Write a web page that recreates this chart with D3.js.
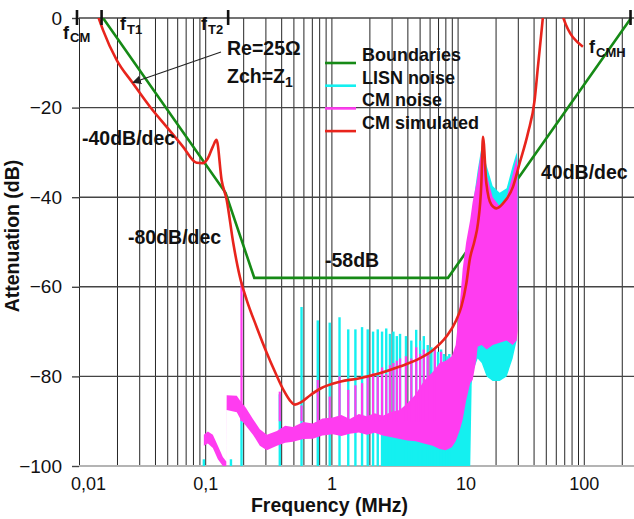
<!DOCTYPE html>
<html>
<head>
<meta charset="utf-8">
<script src="https://cdn.jsdelivr.net/npm/d3@7"></script>
<style>
body { margin: 0; background: #fff; }
svg { font-family: "Liberation Sans", Arial, sans-serif; }
</style>
</head>
<body>
<svg width="634" height="519"></svg>
<script>
// tick labels
const xTickValues = [0.01, 0.1, 1, 10, 100];
const xTickLabels = ['0,01', '0,1', '1', '10', '100'];
const yTickValues = [0, -20, -40, -60, -80, -100];

// boundaries (green)
const boundF = [0.0155, 0.145, 0.245, 8.4, 237];
const boundDb = [0, -39, -58, -58, 0];

// CM simulated (red)
const simF = [0.0142,0.0155,0.0199,0.0268,0.0365,0.0495,0.0666,0.0855,0.0959,0.105,0.115,0.123,0.135,0.148,0.167,0.188,0.213,0.255,0.306,0.36,0.42,0.47,0.513,0.58,0.68,0.82,1.166,1.678,2.416,3.48,5.01,6.39,8.15,9.78,10.72,11.74,12.47,13.66,14.51,15.43,15.89,16.9,18.52,20.29,22.88,27.46,31.02,36.1,40.8,43.3,46.1,47.5,52,58,64,68.3,98.4];
const simDb = [0.3,-2.7,-9.4,-14.6,-19.8,-24.3,-28.7,-32.3,-32.4,-31.3,-28.7,-27.2,-36.2,-40.6,-50.3,-57.7,-62.9,-68.9,-74.6,-79.2,-83.2,-85.4,-86.3,-85.7,-84.2,-82.7,-81.2,-80.4,-79.3,-77.8,-76,-74.1,-71.1,-67.4,-64.4,-59.2,-54,-49.6,-45.8,-36.9,-26.5,-36.9,-41.7,-42.5,-41.4,-37.7,-32.4,-25.7,-18.3,-10.9,-3.4,0.3,6,9,5,0.3,-6.4];

// CM noise (magenta) band
const magF = [0.0976,0.105,0.115,0.126,0.138,0.147,0.148,0.178,0.190,0.210,0.239,0.271,0.308,0.370,0.43,0.495,0.6,0.712,0.85,1.026,1.2,1.40,1.65,1.91,2.2,2.55,3.0,3.48,4.0,4.66,5.4,6.35,7.2,8.05,9.0,9.66,10.4,10.97,11.7,12.6,13.17,14.07,14.43,15.52,17.0,18.97,21.54,24.48,27.31,29.38,29.9];
const magHi = [-93.0,-92.3,-93.0,-95.5,-98.0,-99.0,-84.2,-84.3,-85.5,-87.0,-89.5,-91.8,-93.0,-92.2,-91.0,-91.3,-90.2,-90.5,-89.4,-89.2,-88.6,-89.5,-88.4,-88.9,-88.2,-88.8,-87.9,-87.5,-86.0,-84.0,-81.0,-79.0,-77.0,-76.5,-75.5,-73.0,-64.0,-56.0,-50.0,-45.0,-41.0,-37.0,-35.0,-29.0,-35.0,-40.0,-42.0,-40.0,-35.0,-31.0,-36.0];
const magLo = [-95.5,-95.0,-96.0,-98.5,-100,-100,-87.5,-88.0,-89.5,-91.0,-93.0,-95.5,-96.5,-95.5,-94.8,-94.6,-94.0,-93.9,-93.2,-92.9,-93.3,-92.8,-92.5,-93.0,-92.6,-93.2,-93.6,-94.0,-94.3,-94.5,-95.0,-95.5,-96.2,-96.5,-95.8,-94.5,-92.0,-89.7,-85.3,-81.5,-80.8,-76.3,-73.4,-73.0,-74.0,-73.0,-72.5,-72.0,-73.0,-72.0,-70.0];
// CM noise harmonic spikes
const magSpikeF = [0.194,0.39,0.58,0.78,0.97,1.16,1.36,1.55,1.75,1.94,2.14,2.33,2.52,2.72,2.91,3.10,3.30,3.50,3.90,4.30,4.70,5.05,5.40,5.80,6.6,7.4];
const magSpikeDb = [-58.9,-83.4,-86.5,-80.8,-84.5,-80,-83,-82,-81.5,-80,-79.3,-80,-78,-79.5,-77.5,-77,-76.5,-76,-75.5,-76,-73.5,-75,-74,-75,-74,-74.5];

// LISN noise (cyan) dense part
const lisnF = [2.55,3.48,4.66,6.35,8.05,9.66,10.4,10.97,11.7,12.6,12.93,13.17,14.43,15.52,17.0,18.97,21.54,24.48,27.31,29.38,30.2];
const lisnHi = [-90.5,-90,-90,-90.5,-91,-88,-75,-62,-52,-46,-44,-42,-34,-28.5,-33,-37.5,-39,-38,-33,-30,-33];
const lisnLo = [-100,-100,-100,-100,-100,-100,-100,-100,-100,-100,-82,-79,-76,-77,-80,-81,-81,-80,-76,-72,-65];
// LISN noise harmonic spikes
const lisnSpikeF = [0.0976,0.160,0.194,0.39,0.58,0.78,0.97,1.16,1.36,1.55,1.75,1.94,2.14,2.33,2.52,2.72,2.91,3.10,3.30,3.50,3.90,4.30,4.70,5.05,5.40,5.80,6.20,6.60,7.00,7.40,7.80,8.20,8.60];
const lisnSpikeDb = [-98.5,-98.5,-89,-84,-64.5,-67.5,-68,-66.8,-69.5,-69.5,-69,-69.5,-70,-69.5,-70,-69.3,-70.5,-70,-71,-70.5,-71,-72,-69.6,-72,-71,-73,-73.5,-74,-74.5,-74,-75,-75.5,-75];

// corner frequency markers
const markerF = [0.00964, 0.0151, 0.152, 234.6];

const legendNames = ['Boundaries', 'LISN noise', 'CM noise', 'CM simulated'];

const colGreen = '#168a16', colCyan = '#14f0f0', colMag = '#ff3cf0', colRed = '#e8241c';

function whenLoaded() {
    const svg = d3.select('svg');
    const width = +svg.attr('width');
    const height = +svg.attr('height');
    const margin = {top: 18, right: 0, bottom: 53, left: 79};
    const innerWidth = width - margin.left - margin.right;
    const innerHeight = height - margin.top - margin.bottom;

    const xScale = d3.scaleLog().domain([0.01, 250]).range([0, innerWidth]);
    const yScale = d3.scaleLinear().domain([-100, 0]).range([innerHeight, 0]);

    const g = svg.append('g').attr('transform', `translate(${margin.left},${margin.top})`);

    svg.append('defs').append('clipPath').attr('id', 'plot')
        .append('rect').attr('width', innerWidth).attr('height', innerHeight);

    // vertical grid
    const gridX = g.append('g')
        .attr('transform', `translate(0,${innerHeight})`)
        .call(d3.axisBottom(xScale).tickValues(xScale.ticks()).tickSize(-innerHeight).tickFormat(''));
    gridX.select('.domain').remove();
    gridX.selectAll('line').attr('stroke', '#262626').attr('stroke-width', 1);

    // horizontal grid
    g.selectAll('.hgrid').data(yTickValues).enter().append('line')
        .attr('class', 'hgrid')
        .attr('x1', 0).attr('x2', innerWidth)
        .attr('y1', d => yScale(d)).attr('y2', d => yScale(d))
        .attr('stroke', d => d === -100 ? '#b4b4b4' : '#444')
        .attr('stroke-width', d => d === -100 ? 2 : 1.4);

    // y axis
    const yAxisG = g.append('g')
        .call(d3.axisLeft(yScale).tickValues(yTickValues).tickSize(7).tickPadding(10));
    yAxisG.select('.domain').remove();
    yAxisG.selectAll('line').attr('stroke', '#444').attr('stroke-width', 1.4);
    yAxisG.selectAll('text').attr('font-size', 19).attr('fill', '#111')
        .attr('font-family', '"Liberation Sans", Arial, sans-serif');

    // x axis labels
    const labelShift = {'0,01': 9, '10': 8};
    const xAxisG = g.append('g')
        .attr('transform', `translate(0,${innerHeight})`)
        .call(d3.axisBottom(xScale).tickValues(xTickValues).tickSize(0).tickPadding(11)
            .tickFormat((d, i) => xTickLabels[i]));
    xAxisG.select('.domain').remove();
    xAxisG.selectAll('text').attr('font-size', 18).attr('fill', '#111')
        .attr('font-family', '"Liberation Sans", Arial, sans-serif')
        .attr('dx', (d, i) => labelShift[xTickLabels[i]] || 0);

    // axis titles
    g.append('text')
        .attr('x', innerWidth / 2 - 27).attr('y', innerHeight + 46)
        .attr('text-anchor', 'middle').attr('font-weight', 'bold').attr('font-size', 19.5)
        .attr('fill', '#111').text('Frequency (MHz)');
    g.append('text')
        .attr('transform', `translate(${-60},${innerHeight / 2 - 6}) rotate(-90)`)
        .attr('text-anchor', 'middle').attr('font-weight', 'bold').attr('font-size', 19.5)
        .attr('fill', '#111').text('Attenuation (dB)');

    const plot = g.append('g').attr('clip-path', 'url(#plot)');

    // boundaries
    const boundData = boundF.map((f, i) => ({f, v: boundDb[i]}));
    plot.append('path').datum(boundData)
        .attr('fill', 'none').attr('stroke', colGreen).attr('stroke-width', 2.6)
        .attr('d', d3.line().x(d => xScale(d.f)).y(d => yScale(d.v)));

    // LISN noise
    const lisnData = lisnF.map((f, i) => ({f, hi: lisnHi[i], lo: lisnLo[i]}));
    plot.append('path').datum(lisnData)
        .attr('fill', colCyan)
        .attr('d', d3.area().x(d => xScale(d.f)).y0(d => yScale(d.lo)).y1(d => yScale(d.hi)));
    plot.selectAll('.lisnSpike').data(lisnSpikeF).enter().append('line')
        .attr('class', 'lisnSpike')
        .attr('x1', d => xScale(d)).attr('x2', d => xScale(d))
        .attr('y1', yScale(-100)).attr('y2', (d, i) => yScale(lisnSpikeDb[i]))
        .attr('stroke', colCyan).attr('stroke-width', 2.4);

    // CM noise
    const magData = magF.map((f, i) => ({f, hi: magHi[i], lo: magLo[i]}));
    plot.append('path').datum(magData)
        .attr('fill', colMag)
        .attr('d', d3.area().x(d => xScale(d.f)).y0(d => yScale(d.lo)).y1(d => yScale(d.hi)));
    plot.selectAll('.magSpike').data(magSpikeF).enter().append('line')
        .attr('class', 'magSpike')
        .attr('x1', d => xScale(d)).attr('x2', d => xScale(d))
        .attr('y1', yScale(-90)).attr('y2', (d, i) => yScale(magSpikeDb[i]))
        .attr('stroke', colMag).attr('stroke-width', 2.2);

    // CM simulated
    const simData = simF.map((f, i) => ({f, v: simDb[i]}));
    plot.append('path').datum(simData)
        .attr('fill', 'none').attr('stroke', colRed).attr('stroke-width', 2.6)
        .attr('d', d3.line().curve(d3.curveMonotoneX).x(d => xScale(d.f)).y(d => yScale(d.v)));

    // corner markers at the top
    g.selectAll('.marker').data(markerF).enter().append('line')
        .attr('class', 'marker')
        .attr('x1', d => xScale(d)).attr('x2', d => xScale(d))
        .attr('y1', -8).attr('y2', 7)
        .attr('stroke', '#111').attr('stroke-width', 2.6);

    const fLabel = (x, y, sub) => {
        svg.append('text').attr('x', x).attr('y', y)
            .attr('font-weight', 'bold').attr('font-size', 18).attr('fill', '#111').text('f');
        svg.append('text').attr('x', x + 7).attr('y', y + 3.5)
            .attr('font-weight', 'bold').attr('font-size', 13).attr('fill', '#111').text(sub);
    };
    fLabel(63, 38.5, 'CM');
    fLabel(120, 30, 'T1');
    fLabel(201, 30, 'T2');
    fLabel(589, 53, 'CMH');

    // annotations
    const note = (x, y, t) => svg.append('text').attr('x', x).attr('y', y)
        .attr('font-weight', 'bold').attr('font-size', 19.5).attr('fill', '#111').text(t);
    note(82, 145, '-40dB/dec');
    note(128, 244, '-80dB/dec');
    note(325, 267, '-58dB');
    note(541, 179, '40dB/dec');
    note(227, 55, 'Re=25\u03A9');
    const zch = note(227, 83, 'Zch=Z');
    zch.append('tspan').attr('font-size', 14).attr('dy', 4).text('1');

    // arrow to the simulated curve
    svg.append('defs').append('marker').attr('id', 'arrow')
        .attr('viewBox', '0 0 10 10').attr('refX', 9).attr('refY', 5)
        .attr('markerWidth', 8).attr('markerHeight', 8).attr('orient', 'auto')
        .append('path').attr('d', 'M0,0 L10,5 L0,10 z').attr('fill', '#222');
    svg.append('line')
        .attr('x1', 221).attr('y1', 52)
        .attr('x2', margin.left + xScale(0.0268)).attr('y2', margin.top + yScale(-14.4))
        .attr('stroke', '#222').attr('stroke-width', 1.1)
        .attr('marker-end', 'url(#arrow)');

    // legend
    const legendColors = [colGreen, colCyan, colMag, colRed];
    const lg = svg.append('g').attr('transform', 'translate(325,61)');
    const items = lg.selectAll('g').data(legendNames).enter().append('g')
        .attr('transform', (d, i) => `translate(0,${i * 22.7})`);
    items.append('line').attr('x1', 0).attr('x2', 31).attr('y1', 2).attr('y2', 2)
        .attr('stroke', (d, i) => legendColors[i]).attr('stroke-width', 2.6);
    items.append('text').attr('x', 37).attr('y', 0)
        .attr('font-weight', 'bold').attr('font-size', 18).attr('fill', '#111').text(d => d);
}

window.onload = whenLoaded;
</script>
</body>
</html>
